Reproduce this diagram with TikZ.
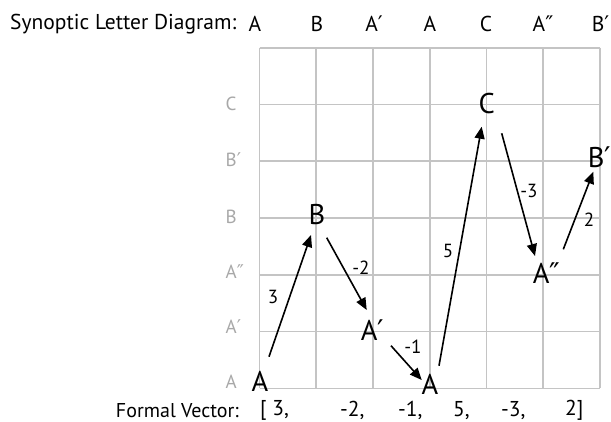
\documentclass[tikz,border=0pt]{standalone}
\usepackage{fontspec}
\setmainfont{PT Sans}
\newfontfamily\primefont{DejaVu Sans}
\newcommand\myprime{{\primefont ′}}
\newcommand\mydprime{{\primefont ″}}
\usetikzlibrary{arrows.meta}
\definecolor{gridgray}{HTML}{C4C4C4}
\definecolor{labgray}{HTML}{A8A8A8}
\begin{document}
\begin{tikzpicture}[x=1pt,y=-1pt,
  gridline/.style={draw=gridgray,line width=1.6pt},
  rowlab/.style={text=labgray,font=\fontsize{19}{19}\selectfont,inner sep=0pt,anchor=west},
  letter/.style={font=\fontsize{28.5}{28.5}\selectfont,inner sep=0pt},
  toplab/.style={font=\fontsize{21.5}{21.5}\selectfont,inner sep=0pt},
  steplab/.style={font=\fontsize{19}{19}\selectfont,inner sep=0pt},
  move/.style={draw=black,line width=1.6pt,-{Triangle[length=12pt,width=10pt]}}]
\useasboundingbox (0,0) rectangle (611,421);
% grid
\foreach \i in {0,...,6} \draw[gridline] ({259.5+56.75*\i},47.7) -- ({259.5+56.75*\i},388.3);
\foreach \j in {0,...,6} \draw[gridline] (259.5,{47.7+56.77*\j}) -- (600,{47.7+56.77*\j});
% row labels
\node[rowlab] (rC) at (225.5,104) {C};
\node[rowlab] (rBp) at (225.5,160) {B\myprime};
\node[rowlab] (rB) at (225.5,216.7) {B};
\node[rowlab] (rApp) at (225.5,272) {A\mydprime};
\node[rowlab] (rAp) at (225.5,327) {A\myprime};
\node[rowlab] (rA) at (225.5,381.5) {A};
% top labels
\node[toplab,anchor=west] (title) at (10,24) {Synoptic Letter Diagram:};
\node[toplab] (t1) at (255,24) {A};
\node[toplab] (t2) at (317,24) {B};
\node[toplab] (t3) at (374,24) {A\myprime};
\node[toplab] (t4) at (430,24) {A};
\node[toplab] (t5) at (486,24) {C};
\node[toplab] (t6) at (543,24) {A\mydprime};
\node[toplab] (t7) at (600.5,24) {B\myprime};
% bottom labels
\node[toplab,font=\fontsize{20}{20}\selectfont,anchor=east] (fv) at (239,410.5) {Formal Vector:};
\node[toplab,anchor=west] (v1) at (260,410.5) {[ 3,};
\node[toplab,anchor=west] (v2) at (340,410.5) {-2,};
\node[toplab,anchor=west] (v3) at (398,410.5) {-1,};
\node[toplab,anchor=west] (v4) at (453,410.5) {5,};
\node[toplab,anchor=west] (v5) at (501,410.5) {-3,};
\node[toplab,anchor=west] (v6) at (565,410.5) {2]};
% letters
\node[letter] (A1) at (260,381.7) {A};
\node[letter] (B) at (317,215) {B};
\node[letter] (Ap) at (372.5,330) {A\myprime};
\node[letter] (A2) at (430,384) {A};
\node[letter] (C) at (486.7,104) {C};
\node[letter] (App) at (546.5,273) {A\mydprime};
\node[letter] (Bp) at (599.5,157) {B\myprime};
% arrow ends
\coordinate (s1) at (269,356.7); \coordinate (e1) at (311,235);
\coordinate (s2) at (326.7,237.7); \coordinate (e2) at (366.7,310);
\coordinate (s3) at (391,345.7); \coordinate (e3) at (421.7,380);
\coordinate (s4) at (439,365.7); \coordinate (e4) at (481.7,126.7);
\coordinate (s5) at (501.7,133.3); \coordinate (e5) at (535,256);
\coordinate (s6) at (563.3,249.3); \coordinate (e6) at (593.3,171.7);
\draw[move] (s1) -- (e1);
\draw[move] (s2) -- (e2);
\draw[move] (s3) -- (e3);
\draw[move] (s4) -- (e4);
\draw[move] (s5) -- (e5);
\draw[move] (s6) -- (e6);
% step labels
\node[steplab] (l1) at (273,297) {3};
\node[steplab] (l2) at (361,268) {-2};
\node[steplab] (l3) at (413,347) {-1};
\node[steplab] (l4) at (448,251) {5};
\node[steplab] (l5) at (529,191) {-3};
\node[steplab] (l6) at (589,220) {2};
\end{tikzpicture}
\end{document}
